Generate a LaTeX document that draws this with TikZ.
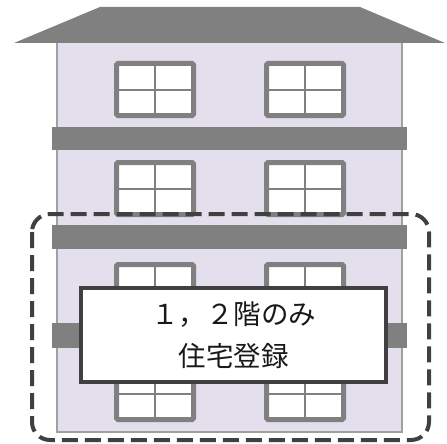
\documentclass[tikz,border=0pt]{standalone}
\usepackage{fontspec}
\newfontfamily\jpfont{Noto Sans CJK JP}
\definecolor{roofgray}{HTML}{808080}
\definecolor{wallfill}{HTML}{E4DFEC}
\definecolor{wallline}{HTML}{A0A0A0}
\definecolor{darkline}{HTML}{404040}
\tikzset{
  wall/.style={draw=wallline, line width=1.2pt, fill=wallfill},
  band/.style={fill=roofgray},
  frame/.style={draw=roofgray, line width=5pt, fill=white, rounded corners=1.5pt},
  pane/.style={draw=roofgray, line width=1.6pt},
  notebox/.style={draw=darkline, line width=4pt, fill=white, text=black!90,
    minimum width=305pt, minimum height=94pt, align=center,
    font=\jpfont\fontsize{27.5}{42}\selectfont},
}
% one window: top left corner at (#1,#2)
\newcommand{\housewindow}[2]{%
  \draw[frame] (#1+2.5,#2+2.5) rectangle (#1+79.5,#2+54.5);
  \draw[pane] (#1+41,#2+4) -- (#1+41,#2+53);
  \draw[pane] (#1+4,#2+29) -- (#1+78,#2+29);
}
\begin{document}
\begin{tikzpicture}[x=1pt,y=-1pt]
\useasboundingbox (0,0) rectangle (447,444);
% walls and roof
\draw[wall] (57,40) rectangle (402,432);
\fill[roofgray] (100,7) -- (360,7) -- (445,43) -- (14,43) -- cycle;
% floor bands
\fill[band] (52,127) rectangle (407,150);
\fill[band] (52,225) rectangle (407,249);
\fill[band] (52,323) rectangle (407,348);
% windows, four floors
\foreach \wy in {61,160,262,365}{
  \housewindow{114}{\wy}
  \housewindow{264}{\wy}
}
% floors 1 and 2
\draw[darkline, line width=4pt, dash pattern=on 16pt off 7pt, rounded corners=18pt]
  (32,214) rectangle (429,440);
\node[notebox] (note) at (233.5,335) {１，２階のみ\\住宅登録};
\end{tikzpicture}
\end{document}
